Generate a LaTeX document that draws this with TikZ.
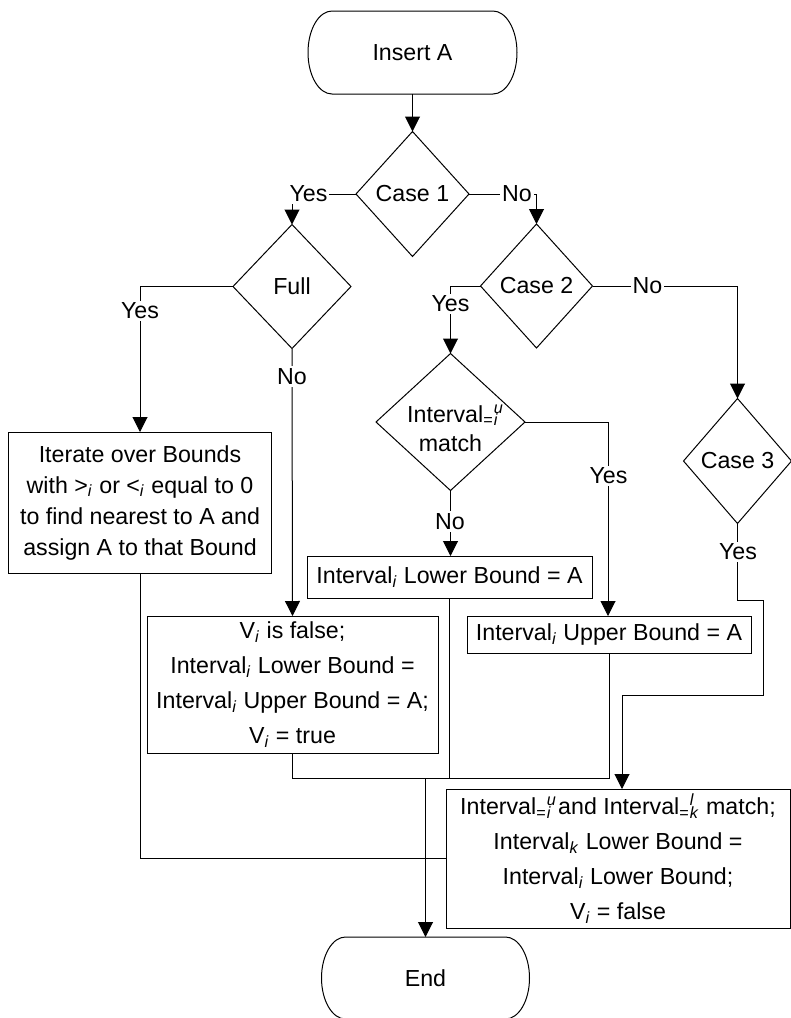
\documentclass[tikz,border=0pt]{standalone}
\usepackage{fontspec}
\setmainfont{Liberation Sans}
\usetikzlibrary{shapes.geometric,arrows.meta}

% italic subscript index
\newcommand\isub[1]{\textsubscript{\textit{#1}}}
% "=" subscript with a stacked italic superscript and subscript
\newcommand\eqidx[2]{\textsubscript{=}\rlap{\textsuperscript{\textit{#1}}}\textsubscript{\textit{#2}}}

\begin{document}
\begin{tikzpicture}[x=0.5pt,y=-0.5pt,
  font=\fontsize{11.6pt}{17.5pt}\selectfont,
  shp/.style={draw=black, line width=0.5pt, inner sep=0pt, outer sep=0pt},
  decision/.style={shp, shape=diamond, aspect=1},
  procbox/.style={shp, shape=rectangle, align=center},
  termbox/.style={inner sep=0pt, outer sep=0pt},
  conn/.style={draw=black, line width=0.5pt},
  arr/.style={conn, -{Triangle[length=7.5pt,width=7.5pt]}},
  lbl/.style={fill=white, inner sep=1pt}]

\useasboundingbox (0,0) rectangle (791,1018);

% terminals
\node[termbox, minimum width=104.5pt, minimum height=41.5pt] (start) at (412.5,52.5) {Insert A};
\draw[conn] ([xshift=12pt]start.north west) -- ([xshift=-12pt]start.north east)
  arc[start angle=90,end angle=-90,x radius=12pt,y radius=20.75pt]
  -- ([xshift=12pt]start.south west)
  arc[start angle=270,end angle=90,x radius=12pt,y radius=20.75pt] -- cycle;

\node[termbox, minimum width=104pt, minimum height=41pt] (fin) at (425.5,978) {End};
\draw[conn] ([xshift=12pt]fin.north west) -- ([xshift=-12pt]fin.north east)
  arc[start angle=90,end angle=-90,x radius=12pt,y radius=20.5pt]
  -- ([xshift=12pt]fin.south west)
  arc[start angle=270,end angle=90,x radius=12pt,y radius=20.5pt] -- cycle;

% decisions
\node[decision, minimum width=56.5pt, minimum height=62.5pt] (c1) at (412.5,194) {Case 1};
\node[decision, minimum width=59pt, minimum height=62pt] (full) at (292,286.5) {Full};
\node[decision, minimum width=56pt, minimum height=62pt] (c2) at (536.5,286) {Case 2};
\node[decision, minimum width=74.5pt, minimum height=68.5pt,
  label={[align=center, yshift=-3pt, font=\fontsize{11.6pt}{14.5pt}\selectfont]center:Interval\textsubscript{=}\rlap{\textsuperscript{\textit{u}}}\rlap{\textsubscript{\textit{i}}}\\match}] (im) at (450.5,422) {};
\node[decision, minimum width=54pt, minimum height=62.5pt] (c3) at (737.5,461) {Case 3};

% process boxes
\node[procbox, minimum width=131.5pt, minimum height=70.5pt,
  font=\fontsize{11.6pt}{15.5pt}\selectfont] (iter) at (140,502.5)
  {Iterate over Bounds\\with >\isub{i} or <\isub{i} equal to 0\\to find nearest to A and\\assign A to that Bound};
\node[procbox, minimum width=145.5pt, minimum height=68.5pt] (vbox) at (292.5,684.5)
  {V\isub{i} is false;\\Interval\isub{i} Lower Bound =\\Interval\isub{i} Upper Bound = A;\\V\isub{i} = true};
\node[procbox, minimum width=142.5pt, minimum height=21pt] (lower) at (449.5,577)
  {Interval\isub{i} Lower Bound = A};
\node[procbox, minimum width=142pt, minimum height=18.5pt] (upper) at (609,634.5)
  {Interval\isub{i} Upper Bound = A};
\node[procbox, minimum width=172pt, minimum height=69.5pt] (final) at (618,858.5)
  {Interval\eqidx{u}{i} and Interval\eqidx{l}{k} match;\\Interval\isub{k} Lower Bound =\\Interval\isub{i} Lower Bound;\\V\isub{i} = false};

% bend points
\coordinate (c3a) at (763,600);
\coordinate (c3b) at (622,695);
\coordinate (join) at (425.5,778);

% connectors
\draw[arr] (start) -- (c1);
\draw[arr] (c1.west) -| (full.north);
\draw[arr] (c1.east) -| (c2.north);
\draw[arr] (full.west) -| (iter.north);
\draw[arr] (full.south) -- (vbox.north);
\draw[arr] (c2.west) -| (im.north);
\draw[arr] (c2.east) -| (c3.north);
\draw[arr] (im.east) -| (upper.north -| 608,0);
\draw[arr] (im.south) -- (lower.north -| im.south);
\draw[arr] (c3.south) |- (c3a) |- (c3b) -- (c3b |- final.north);
\draw[conn] (vbox.south) |- (join);
\draw[conn] (lower.south) |- (join);
\draw[conn] (upper.south) |- (join);
\draw[arr] (join) -- (fin.north);
\draw[conn] (iter.south) |- (final.west);

% branch labels
\node[lbl] (ly1) at (308.5,194) {Yes};
\node[lbl] (ln1) at (517,194) {No};
\node[lbl] (ly2) at (140,311) {Yes};
\node[lbl] (ln2) at (292,376.5) {No};
\node[lbl] (ly3) at (450.5,304) {Yes};
\node[lbl] (ln3) at (647.5,285.5) {No};
\node[lbl] (ly4) at (608.5,476) {Yes};
\node[lbl] (ln4) at (450,521.5) {No};
\node[lbl] (ly5) at (738,552) {Yes};
\end{tikzpicture}
\end{document}
